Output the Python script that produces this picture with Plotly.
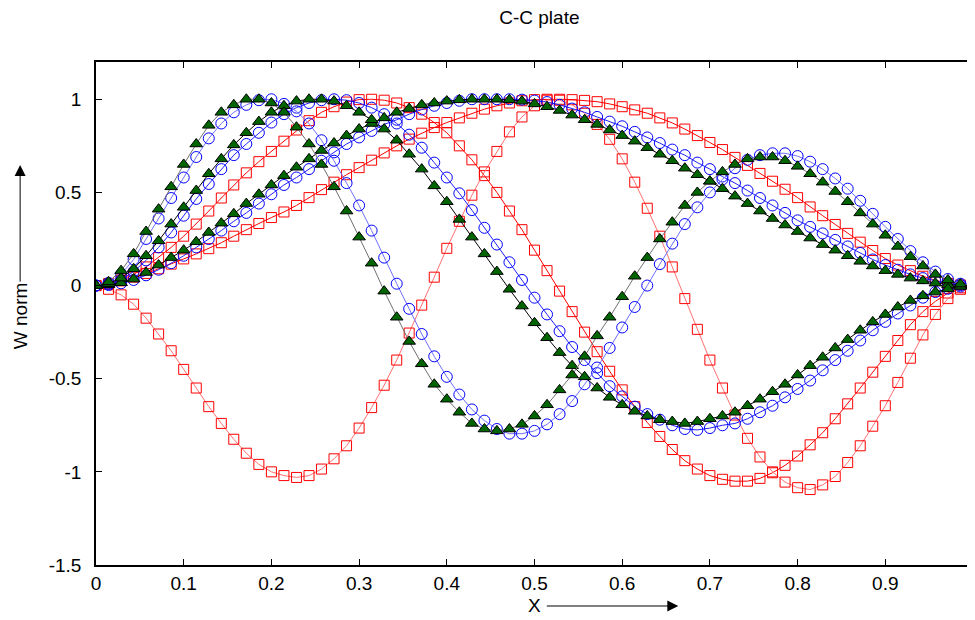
import plotly.graph_objects as go

# sample positions along the plate
x = [0, 0.0143, 0.0286, 0.0429, 0.0571, 0.0714, 0.0857, 0.1, 0.1143, 0.1286,
     0.1429, 0.1571, 0.1714, 0.1857, 0.2, 0.2143, 0.2286, 0.2429, 0.2571, 0.2714,
     0.2857, 0.3, 0.3143, 0.3286, 0.3429, 0.3571, 0.3714, 0.3857, 0.4, 0.4143,
     0.4286, 0.4429, 0.4571, 0.4714, 0.4857, 0.5, 0.5143, 0.5286, 0.5429, 0.5571,
     0.5714, 0.5857, 0.6, 0.6143, 0.6286, 0.6429, 0.6571, 0.6714, 0.6857, 0.7,
     0.7143, 0.7286, 0.7429, 0.7571, 0.7714, 0.7857, 0.8, 0.8143, 0.8286, 0.8429,
     0.8571, 0.8714, 0.8857, 0.9, 0.9143, 0.9286, 0.9429, 0.9571, 0.9714, 0.9857, 1.0]

# green triangles
g_mode1 = [0, 0.004, 0.015, 0.035, 0.07, 0.11, 0.15, 0.19, 0.235, 0.285,
           0.335, 0.385, 0.44, 0.49, 0.54, 0.59, 0.635, 0.68, 0.725, 0.765,
           0.805, 0.84, 0.87, 0.90, 0.93, 0.95, 0.97, 0.98, 0.99, 0.997,
           1.0, 1.0, 1.0, 0.997, 0.99, 0.975, 0.96, 0.94, 0.915, 0.89,
           0.865, 0.835, 0.805, 0.775, 0.74, 0.705, 0.67, 0.63, 0.595, 0.56,
           0.52, 0.48, 0.44, 0.40, 0.36, 0.325, 0.29, 0.255, 0.22, 0.19,
           0.16, 0.13, 0.105, 0.08, 0.06, 0.04, 0.025, 0.013, 0.005, 0.001, 0]
g_mode2 = [0, 0.01, 0.04, 0.09, 0.16, 0.24, 0.33, 0.42, 0.51, 0.60,
           0.68, 0.755, 0.82, 0.88, 0.93, 0.965, 0.99, 1.0, 1.0, 0.99,
           0.965, 0.93, 0.89, 0.84, 0.78, 0.705, 0.625, 0.535, 0.45, 0.355,
           0.26, 0.17, 0.075, -0.02, -0.11, -0.20, -0.28, -0.36, -0.43, -0.49,
           -0.55, -0.60, -0.64, -0.675, -0.70, -0.72, -0.73, -0.74, -0.73, -0.715,
           -0.70, -0.68, -0.645, -0.61, -0.57, -0.53, -0.48, -0.43, -0.385, -0.335,
           -0.29, -0.24, -0.195, -0.155, -0.115, -0.08, -0.055, -0.035, -0.018, -0.005, 0]
g_mode3 = [0, 0.02, 0.08, 0.17, 0.29, 0.41, 0.53, 0.65, 0.76, 0.86,
           0.93, 0.97, 1.0, 1.0, 0.98, 0.93, 0.85, 0.76, 0.65, 0.53,
           0.40, 0.26, 0.12, -0.03, -0.17, -0.30, -0.42, -0.53, -0.61, -0.68,
           -0.74, -0.77, -0.78, -0.77, -0.745, -0.70, -0.64, -0.56, -0.48, -0.38,
           -0.27, -0.17, -0.06, 0.05, 0.15, 0.25, 0.34, 0.43, 0.50, 0.56,
           0.61, 0.65, 0.68, 0.69, 0.69, 0.67, 0.64, 0.60, 0.555, 0.505,
           0.45, 0.39, 0.33, 0.27, 0.21, 0.155, 0.105, 0.06, 0.03, 0.008, 0]

# blue circles
b_mode1 = [0, 0.003, 0.012, 0.03, 0.055, 0.085, 0.12, 0.16, 0.205, 0.25,
           0.295, 0.345, 0.39, 0.44, 0.49, 0.54, 0.58, 0.625, 0.67, 0.715,
           0.76, 0.795, 0.83, 0.865, 0.89, 0.92, 0.945, 0.965, 0.98, 0.992,
           1.0, 1.0, 1.0, 1.0, 0.998, 0.993, 0.985, 0.97, 0.95, 0.93,
           0.905, 0.88, 0.855, 0.825, 0.795, 0.765, 0.73, 0.70, 0.66, 0.625,
           0.585, 0.55, 0.51, 0.47, 0.43, 0.39, 0.35, 0.315, 0.28, 0.245,
           0.21, 0.175, 0.14, 0.11, 0.085, 0.06, 0.04, 0.025, 0.012, 0.003, 0]
b_mode2 = [0, 0.008, 0.03, 0.075, 0.135, 0.205, 0.285, 0.375, 0.465, 0.545,
           0.625, 0.70, 0.76, 0.82, 0.875, 0.92, 0.955, 0.98, 0.995, 1.0,
           0.995, 0.98, 0.955, 0.92, 0.87, 0.81, 0.74, 0.66, 0.58, 0.495,
           0.405, 0.31, 0.22, 0.125, 0.03, -0.065, -0.155, -0.245, -0.33, -0.40,
           -0.47, -0.54, -0.595, -0.65, -0.69, -0.72, -0.75, -0.77, -0.775, -0.765,
           -0.75, -0.74, -0.715, -0.68, -0.645, -0.60, -0.555, -0.51, -0.455, -0.40,
           -0.35, -0.295, -0.24, -0.195, -0.15, -0.107, -0.065, -0.035, -0.017, -0.005, 0]
b_mode3 = [0, 0.015, 0.06, 0.14, 0.25, 0.36, 0.47, 0.58, 0.69, 0.79,
           0.87, 0.93, 0.97, 0.995, 1.0, 0.975, 0.935, 0.87, 0.78, 0.67,
           0.55, 0.43, 0.295, 0.15, 0.01, -0.125, -0.26, -0.38, -0.49, -0.585,
           -0.665, -0.725, -0.77, -0.795, -0.795, -0.78, -0.745, -0.69, -0.62, -0.53,
           -0.44, -0.335, -0.225, -0.115, 0.0, 0.115, 0.225, 0.33, 0.42, 0.50,
           0.57, 0.63, 0.675, 0.70, 0.71, 0.71, 0.695, 0.665, 0.625, 0.575,
           0.52, 0.455, 0.385, 0.315, 0.25, 0.185, 0.125, 0.075, 0.035, 0.01, 0]

# red squares
r_mode1 = [0, 0.007, 0.025, 0.045, 0.065, 0.09, 0.115, 0.143, 0.17, 0.198,
           0.23, 0.265, 0.30, 0.333, 0.365, 0.395, 0.43, 0.472, 0.515, 0.555,
           0.595, 0.633, 0.673, 0.712, 0.75, 0.786, 0.818, 0.848, 0.875, 0.90,
           0.925, 0.947, 0.965, 0.98, 0.992, 0.998, 1.0, 1.0, 0.998, 0.994,
           0.987, 0.975, 0.96, 0.943, 0.925, 0.90, 0.873, 0.84, 0.805, 0.768,
           0.73, 0.688, 0.645, 0.602, 0.56, 0.517, 0.472, 0.422, 0.375, 0.328,
           0.28, 0.233, 0.188, 0.145, 0.11, 0.08, 0.05, 0.028, 0.012, 0.003, 0]
r_mode2 = [0, 0.01, 0.03, 0.06, 0.10, 0.15, 0.205, 0.265, 0.33, 0.40,
           0.47, 0.54, 0.605, 0.665, 0.72, 0.775, 0.835, 0.885, 0.93, 0.96,
           0.985, 0.998, 1.0, 0.995, 0.98, 0.955, 0.92, 0.875, 0.82, 0.75,
           0.675, 0.59, 0.50, 0.40, 0.30, 0.19, 0.08, -0.03, -0.14, -0.25,
           -0.355, -0.46, -0.56, -0.65, -0.735, -0.81, -0.88, -0.94, -0.985, -1.02,
           -1.04, -1.05, -1.05, -1.035, -1.005, -0.965, -0.915, -0.855, -0.79, -0.715,
           -0.635, -0.55, -0.465, -0.38, -0.295, -0.21, -0.14, -0.085, -0.04, -0.012, 0]
r_mode3 = [0, -0.02, -0.05, -0.10, -0.175, -0.26, -0.35, -0.45, -0.55, -0.65,
           -0.74, -0.825, -0.90, -0.96, -1.0, -1.02, -1.03, -1.02, -0.985, -0.93,
           -0.86, -0.765, -0.655, -0.535, -0.40, -0.255, -0.105, 0.045, 0.20, 0.345,
           0.485, 0.61, 0.72, 0.825, 0.905, 0.965, 0.995, 0.995, 0.97, 0.925,
           0.865, 0.785, 0.68, 0.555, 0.415, 0.265, 0.10, -0.07, -0.235, -0.40,
           -0.55, -0.695, -0.82, -0.92, -1.0, -1.055, -1.085, -1.095, -1.07, -1.025,
           -0.95, -0.86, -0.755, -0.645, -0.52, -0.39, -0.265, -0.155, -0.07, -0.02, 0]

x_tick_vals = [0, 0.1, 0.2, 0.3, 0.4, 0.5, 0.6, 0.7, 0.8, 0.9, 1]
x_tick_text = ["0", "0.1", "0.2", "0.3", "0.4", "0.5", "0.6", "0.7", "0.8", "0.9", "1"]
y_tick_vals = [-1.5, -1, -0.5, 0, 0.5, 1]
y_tick_text = ["-1.5", "-1", "-0.5", "0", "0.5", "1"]

for s in [g_mode1, g_mode2, g_mode3, b_mode1, b_mode2, b_mode3, r_mode1, r_mode2, r_mode3]:
    assert len(s) == len(x), len(s)

FONT = "Liberation Sans, Arial, Helvetica, sans-serif"
fig = go.Figure()

red_sq = dict(symbol="square-open", size=10, color="#ff0000", line=dict(width=1))
blue_c = dict(symbol="circle-open", size=11, color="#0000ff", line=dict(width=1))
green_t = dict(symbol="triangle-up", size=11, color="#006400", line=dict(color="#000000", width=1))

for ys, lc in [(r_mode1, "#ff0000"), (r_mode2, "#ff0000"), (r_mode3, "#ff7070")]:
    fig.add_trace(go.Scatter(x=x, y=ys, mode="lines+markers", line=dict(color=lc, width=1),
                             marker=red_sq, showlegend=False))
for ys, lc in [(b_mode1, "#2020ff"), (b_mode2, "#2020ff"), (b_mode3, "#7070ff")]:
    fig.add_trace(go.Scatter(x=x, y=ys, mode="lines+markers", line=dict(color=lc, width=1),
                             marker=blue_c, showlegend=False))
for ys, lc in [(g_mode1, "#000000"), (g_mode2, "#000000"), (g_mode3, "#707070")]:
    fig.add_trace(go.Scatter(x=x, y=ys, mode="lines+markers", line=dict(color=lc, width=1),
                             marker=green_t, showlegend=False))

axis_common = dict(showgrid=False, zeroline=False, showline=True, linecolor="black",
                   linewidth=1.5, mirror="allticks", ticks="inside", ticklen=6,
                   tickcolor="black", tickfont=dict(family=FONT, size=19, color="black"))
fig.update_xaxes(range=[0, 1], tickvals=x_tick_vals, ticktext=x_tick_text, **axis_common)
fig.update_yaxes(range=[-1.5, 1.2], tickvals=y_tick_vals, ticktext=y_tick_text,
                 ticklabelstandoff=9, **axis_common)

fig.update_layout(
    width=975, height=620,
    margin=dict(l=88, r=5, t=54, b=63),
    paper_bgcolor="white", plot_bgcolor="white",
    title=dict(text="C-C plate", x=0.545, xanchor="center", y=0.985, yanchor="middle",
               font=dict(family=FONT, size=19, color="black")),
    annotations=[
        dict(text="X", xref="paper", yref="paper", x=0.5, y=-0.0815, showarrow=False,
             xanchor="center", yanchor="middle",
             font=dict(family=FONT, size=19, color="black")),
        dict(text="", xref="paper", yref="paper", x=0.664, y=-0.0815, ax=-133, ay=0,
             showarrow=True, arrowhead=2, arrowsize=2.2, arrowwidth=1, arrowcolor="black"),
        dict(text="W norm", xref="paper", yref="paper", x=-0.0865, y=0.495, showarrow=False,
             xanchor="center", yanchor="middle", textangle=-90,
             font=dict(family=FONT, size=19, color="black")),
        dict(text="", xref="paper", yref="paper", x=-0.0865, y=0.795, ax=0, ay=118,
             showarrow=True, arrowhead=2, arrowsize=2.2, arrowwidth=1, arrowcolor="black"),
    ],
)

fig.write_html("out.html")
